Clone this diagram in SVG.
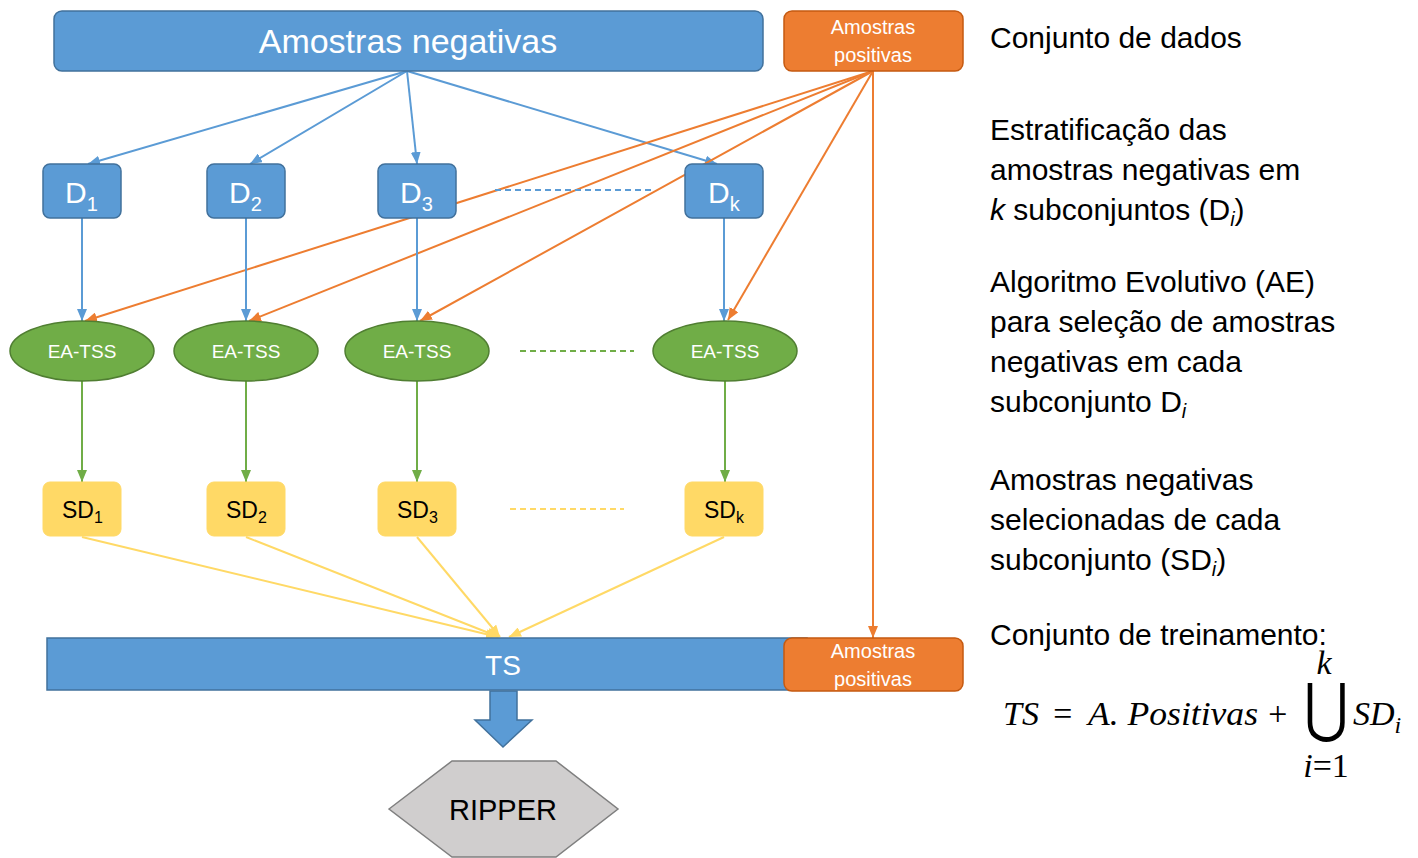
<svg xmlns="http://www.w3.org/2000/svg" width="1418" height="858" viewBox="0 0 1418 858">
<style>
.sans{font-family:"Liberation Sans",Arial,sans-serif}
.blue{fill:#5B9BD5;stroke:#41719C;stroke-width:1.5}
.orange{fill:#ED7D31;stroke:#C55A11;stroke-width:1.5}
.green{fill:#70AD47;stroke:#507E32;stroke-width:1.5}
.yellow{fill:#FFD966;stroke:#FFD966;stroke-width:1}
.wt{fill:#fff}
.bk{fill:#000}
.lb{stroke:#5B9BD5;stroke-width:2;fill:none}
.lo{stroke:#ED7D31;stroke-width:2;fill:none}
.lg{stroke:#70AD47;stroke-width:2;fill:none}
.ly{stroke:#FFD966;stroke-width:2;fill:none}
.desc{font-family:"Liberation Sans",Arial,sans-serif;font-size:30px;fill:#000}
.math{font-family:"Liberation Serif","Times New Roman",serif;font-style:italic;font-size:34px;fill:#000}
</style>
<defs>
<marker id="ab" viewBox="0 0 12 10" refX="12" refY="5" markerWidth="12" markerHeight="10" markerUnits="userSpaceOnUse" orient="auto"><path d="M0,0 L12,5 L0,10 z" fill="#5B9BD5"/></marker>
<marker id="ao" viewBox="0 0 12 10" refX="12" refY="5" markerWidth="12" markerHeight="10" markerUnits="userSpaceOnUse" orient="auto"><path d="M0,0 L12,5 L0,10 z" fill="#ED7D31"/></marker>
<marker id="ag" viewBox="0 0 12 10" refX="12" refY="5" markerWidth="12" markerHeight="10" markerUnits="userSpaceOnUse" orient="auto"><path d="M0,0 L12,5 L0,10 z" fill="#70AD47"/></marker>
<marker id="ay" viewBox="0 0 12 10" refX="12" refY="5" markerWidth="12" markerHeight="10" markerUnits="userSpaceOnUse" orient="auto"><path d="M0,0 L12,5 L0,10 z" fill="#FFD966"/></marker>
</defs>

<g id="connectors">
  <line class="lb" x1="407" y1="71" x2="88" y2="164" marker-end="url(#ab)"/>
  <line class="lb" x1="407" y1="71" x2="250" y2="164" marker-end="url(#ab)"/>
  <line class="lb" x1="407" y1="71" x2="417" y2="164" marker-end="url(#ab)"/>
  <line class="lb" x1="407" y1="71" x2="717" y2="164" marker-end="url(#ab)"/>
  <line class="lo" x1="873" y1="71" x2="85" y2="321" marker-end="url(#ao)"/>
  <line class="lo" x1="873" y1="71" x2="249" y2="321" marker-end="url(#ao)"/>
  <line class="lo" x1="873" y1="71" x2="420" y2="321" marker-end="url(#ao)"/>
  <line class="lo" x1="873" y1="71" x2="728" y2="320" marker-end="url(#ao)"/>
  <line class="lo" x1="873" y1="71" x2="873" y2="638" marker-end="url(#ao)"/>
  <line class="lb" x1="82" y1="218" x2="82" y2="321" marker-end="url(#ab)"/>
  <line class="lb" x1="246" y1="218" x2="246" y2="321" marker-end="url(#ab)"/>
  <line class="lb" x1="417" y1="218" x2="417" y2="321" marker-end="url(#ab)"/>
  <line class="lb" x1="724" y1="218" x2="724" y2="321" marker-end="url(#ab)"/>
  <line class="lg" x1="82" y1="381" x2="82" y2="482" marker-end="url(#ag)"/>
  <line class="lg" x1="246" y1="381" x2="246" y2="482" marker-end="url(#ag)"/>
  <line class="lg" x1="417" y1="381" x2="417" y2="482" marker-end="url(#ag)"/>
  <line class="lg" x1="725" y1="381" x2="725" y2="482" marker-end="url(#ag)"/>
  <line class="ly" x1="82" y1="537" x2="498" y2="637" marker-end="url(#ay)"/>
  <line class="ly" x1="246" y1="537" x2="499" y2="637" marker-end="url(#ay)"/>
  <line class="ly" x1="417" y1="537" x2="500" y2="637" marker-end="url(#ay)"/>
  <line class="ly" x1="724" y1="537" x2="509" y2="637" marker-end="url(#ay)"/>
  <line class="lb" x1="495" y1="190" x2="655" y2="190" stroke-dasharray="6,4" stroke-width="1.5"/>
  <line class="lg" x1="520" y1="351" x2="634" y2="351" stroke-dasharray="6,4" stroke-width="1.5"/>
  <line class="ly" x1="510" y1="509" x2="624" y2="509" stroke-dasharray="6,4" stroke-width="1.5"/>
  <polygon class="blue" points="490,691 517,691 517,720 532,720 503,747 475,720 490,720"/>
</g>

<g id="neg">
  <rect class="blue" x="54" y="11" width="709" height="60" rx="8"/>
  <text class="sans wt" x="408" y="53" font-size="34" text-anchor="middle">Amostras negativas</text>
</g>
<g id="pos">
  <rect class="orange" x="784" y="11" width="179" height="60" rx="8"/>
  <text class="sans wt" x="873" y="34" font-size="20" text-anchor="middle">Amostras</text>
  <text class="sans wt" x="873" y="62" font-size="20" text-anchor="middle">positivas</text>
</g>

<g id="d1"><rect class="blue" x="43" y="164" width="78" height="54" rx="7"/><text class="sans wt" x="65" y="203" font-size="30">D<tspan font-size="20" dy="8">1</tspan></text></g>
<g id="d2"><rect class="blue" x="207" y="164" width="78" height="54" rx="7"/><text class="sans wt" x="229" y="203" font-size="30">D<tspan font-size="20" dy="8">2</tspan></text></g>
<g id="d3"><rect class="blue" x="378" y="164" width="78" height="54" rx="7"/><text class="sans wt" x="400" y="203" font-size="30">D<tspan font-size="20" dy="8">3</tspan></text></g>
<g id="dk"><rect class="blue" x="685" y="164" width="78" height="54" rx="7"/><text class="sans wt" x="708" y="203" font-size="30">D<tspan font-size="20" dy="8">k</tspan></text></g>

<g id="ea1"><ellipse class="green" cx="82" cy="351" rx="72" ry="30"/><text class="sans wt" x="82" y="358" font-size="19" text-anchor="middle">EA-TSS</text></g>
<g id="ea2"><ellipse class="green" cx="246" cy="351" rx="72" ry="30"/><text class="sans wt" x="246" y="358" font-size="19" text-anchor="middle">EA-TSS</text></g>
<g id="ea3"><ellipse class="green" cx="417" cy="351" rx="72" ry="30"/><text class="sans wt" x="417" y="358" font-size="19" text-anchor="middle">EA-TSS</text></g>
<g id="eak"><ellipse class="green" cx="725" cy="351" rx="72" ry="30"/><text class="sans wt" x="725" y="358" font-size="19" text-anchor="middle">EA-TSS</text></g>

<g id="sd1"><rect class="yellow" x="43" y="482" width="78" height="54" rx="7"/><text class="sans bk" x="62" y="518" font-size="23">SD<tspan font-size="16" dy="5">1</tspan></text></g>
<g id="sd2"><rect class="yellow" x="207" y="482" width="78" height="54" rx="7"/><text class="sans bk" x="226" y="518" font-size="23">SD<tspan font-size="16" dy="5">2</tspan></text></g>
<g id="sd3"><rect class="yellow" x="378" y="482" width="78" height="54" rx="7"/><text class="sans bk" x="397" y="518" font-size="23">SD<tspan font-size="16" dy="5">3</tspan></text></g>
<g id="sdk"><rect class="yellow" x="685" y="482" width="78" height="54" rx="7"/><text class="sans bk" x="704" y="518" font-size="23">SD<tspan font-size="16" dy="5">k</tspan></text></g>

<g id="ts">
  <rect class="blue" x="47" y="638" width="760" height="52"/>
  <text class="sans wt" x="503" y="675" font-size="28" text-anchor="middle">TS</text>
</g>
<g id="pos2">
  <rect class="orange" x="784" y="638" width="179" height="53" rx="8"/>
  <text class="sans wt" x="873" y="658" font-size="20" text-anchor="middle">Amostras</text>
  <text class="sans wt" x="873" y="686" font-size="20" text-anchor="middle">positivas</text>
</g>

<g id="ripper">
  <polygon points="389,809 452,761 556,761 618,809 556,857 452,857" fill="#D0CECE" stroke="#7F7F7F" stroke-width="1.5"/>
  <text class="sans bk" x="503" y="820" font-size="29" text-anchor="middle">RIPPER</text>
</g>

<g id="legend">
  <text class="desc" x="990" y="48">Conjunto de dados</text>
  <text class="desc" x="990" y="140">Estratificação das</text>
  <text class="desc" x="990" y="180">amostras negativas em</text>
  <text class="desc" x="990" y="220"><tspan font-style="italic">k</tspan> subconjuntos (D<tspan font-size="20" dy="6" font-style="italic">i</tspan><tspan dy="-6">)</tspan></text>
  <text class="desc" x="990" y="292">Algoritmo Evolutivo (AE)</text>
  <text class="desc" x="990" y="332">para seleção de amostras</text>
  <text class="desc" x="990" y="372">negativas em cada</text>
  <text class="desc" x="990" y="412">subconjunto D<tspan font-size="20" dy="6" font-style="italic">i</tspan></text>
  <text class="desc" x="990" y="490">Amostras negativas</text>
  <text class="desc" x="990" y="530">selecionadas de cada</text>
  <text class="desc" x="990" y="570">subconjunto (SD<tspan font-size="20" dy="6" font-style="italic">i</tspan><tspan dy="-6">)</tspan></text>
  <text class="desc" x="990" y="645">Conjunto de treinamento:</text>
  <text class="math" x="1003" y="725">TS</text>
  <text class="math" x="1051" y="725" font-style="normal">=</text>
  <text class="math" x="1088" y="725" textLength="170" lengthAdjust="spacingAndGlyphs">A. Positivas</text>
  <text class="math" x="1266" y="725" font-style="normal">+</text>
  <text transform="translate(1326,730) scale(1,1.2)" x="0" y="0" font-family="DejaVu Serif,serif" font-size="54" text-anchor="middle" fill="#000">⋃</text>
  <text class="math" x="1324" y="674" font-size="20" text-anchor="middle">k</text>
  <text class="math" x="1326" y="777" font-size="22" text-anchor="middle">i<tspan font-style="normal">=1</tspan></text>
  <text class="math" x="1353" y="725">SD<tspan font-size="24" dy="8">i</tspan></text>
</g>
</svg>
